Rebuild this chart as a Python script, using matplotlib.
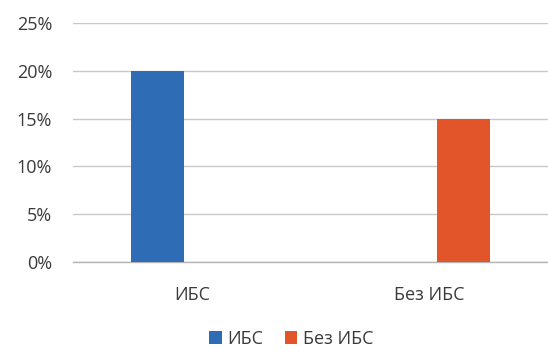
import numpy as np
import matplotlib
matplotlib.use("Agg")
import matplotlib.pyplot as plt
from matplotlib.ticker import PercentFormatter

plt.rcParams['font.family'] = ['Open Sans', 'DejaVu Sans']

categories = ['ИБС', 'Без ИБС']
series_names = ['ИБС', 'Без ИБС']
ibs_values = [0.20, 0.0]
no_ibs_values = [0.0, 0.15]
y_ticks = [0, 0.05, 0.10, 0.15, 0.20, 0.25]

colors = ['#2E6DB5', '#E2552A']
text_color = '#3a3a3a'

fig = plt.figure(figsize=(5.48, 3.51), dpi=100)
ax = fig.add_axes([73 / 548, (351 - 262) / 351, (548 - 73) / 548, (262 - 23) / 351])

x = np.arange(len(categories))
w = 0.223
ax.bar(x - 0.145, ibs_values, width=w, color=colors[0], label=series_names[0], zorder=3)
ax.bar(x + 0.145, no_ibs_values, width=w, color=colors[1], label=series_names[1], zorder=3)

ax.set_xlim(-0.5, 1.5)
ax.set_ylim(0, 0.25)
ax.set_yticks(y_ticks)
ax.yaxis.set_major_formatter(PercentFormatter(1.0, decimals=0))
ax.set_xticks(x)
ax.set_xticklabels(categories)

ax.grid(axis='y', color='#c8c8c8', linewidth=1.0, zorder=0)
ax.tick_params(length=0, labelsize=13, colors=text_color)
ax.tick_params(axis='x', pad=17)
ax.tick_params(axis='y', pad=15)
for side in ['top', 'right', 'left']:
    ax.spines[side].set_visible(False)
ax.spines['bottom'].set_color('#b4b4b4')
ax.spines['bottom'].set_linewidth(1.0)

fig.legend(loc='center', bbox_to_anchor=(291 / 548, 1 - 339 / 351), ncol=2, frameon=False,
           fontsize=13, handlelength=0.7, handleheight=0.7, handletextpad=0.3,
           columnspacing=1.2, labelcolor=text_color, borderpad=0.2)

fig.savefig('out.png', dpi=100)
